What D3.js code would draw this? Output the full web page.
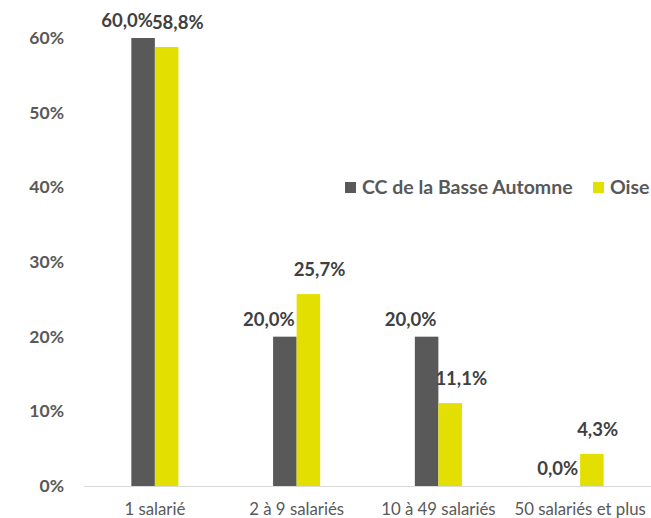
<!DOCTYPE html>
<html><head><meta charset="utf-8">
<script src="https://cdn.jsdelivr.net/npm/d3@7"></script>
<style>body{margin:0;background:#fff}svg{display:block}</style>
</head><body>
<svg id="c" width="651" height="518"></svg>
<script>
const categories = ["1 salarié", "2 à 9 salariés", "10 à 49 salariés", "50 salariés et plus"];
const seriesNames = ["CC de la Basse Automne", "Oise"];
const ccValues = [60.0, 20.0, 20.0, 0.0];
const oiseValues = [58.8, 25.7, 11.1, 4.3];
const yTicks = [0, 10, 20, 30, 40, 50, 60];
const colors = ["#595959", "#e3df00"];

const svg = d3.select("#c");
const font = "Lato, 'Open Sans', sans-serif";
const x = d3.scaleBand().domain(categories).range([84, 651]);
const y = d3.scaleLinear().domain([0, 60]).range([486, 38]);
const barW = x.bandwidth() * 0.166;
const fmt = v => v.toFixed(1).replace(".", ",") + "%";

// y tick labels
svg.append("g").selectAll("text").data(yTicks).join("text")
  .attr("x", 64).attr("y", d => y(d) + 6)
  .attr("text-anchor", "end").attr("font-family", font).attr("font-weight", "bold")
  .attr("font-size", 17.5).attr("fill", "#595959").text(d => d + "%");

const series = [ccValues, oiseValues];
series.forEach((vals, si) => {
  const g = svg.append("g");
  g.selectAll("rect").data(vals).join("rect")
    .attr("x", (d, i) => x(categories[i]) + x.bandwidth() / 2 + (si === 0 ? -barW : 0))
    .attr("y", d => y(d)).attr("width", barW).attr("height", d => y(0) - y(d))
    .attr("fill", colors[si]);
  g.selectAll("text").data(vals).join("text")
    .attr("x", (d, i) => x(categories[i]) + x.bandwidth() / 2 + (si === 0 ? -2 : -3))
    .attr("y", d => y(d) - (si === 0 ? 11 : 18))
    .attr("text-anchor", si === 0 ? "end" : "start")
    .attr("font-family", font).attr("font-weight", "bold").attr("font-size", 18.5)
    .attr("fill", "#404040").text(d => fmt(d));
});

// x axis line
svg.append("line").attr("x1", 84).attr("x2", 651).attr("y1", y(0) + 0.5).attr("y2", y(0) + 0.5)
  .attr("stroke", "#d9d9d9").attr("stroke-width", 1.2);

const xAxis = d3.axisBottom(x).tickSize(0).tickPadding(0);
const xg = svg.append("g").attr("transform", `translate(0,${y(0)})`).call(xAxis);
xg.select(".domain").remove();
xg.selectAll("text").attr("font-family", font).attr("font-size", 16.8).attr("fill", "#595959")
  .attr("dy", 0).attr("y", 29).attr("x", (d, i) => i === 3 ? 0 : 0);

// legend
const leg = svg.append("g");
const legItems = [{n: seriesNames[0], c: colors[0], x: 345}, {n: seriesNames[1], c: colors[1], x: 593}];
legItems.forEach(it => {
  leg.append("rect").attr("x", it.x).attr("y", 182).attr("width", 11).attr("height", 11).attr("fill", it.c);
  leg.append("text").attr("x", it.x + 17).attr("y", 194).attr("font-family", font).attr("font-weight", "bold")
    .attr("font-size", 19.5).attr("fill", "#595959").text(it.n);
});
</script>
</body></html>
